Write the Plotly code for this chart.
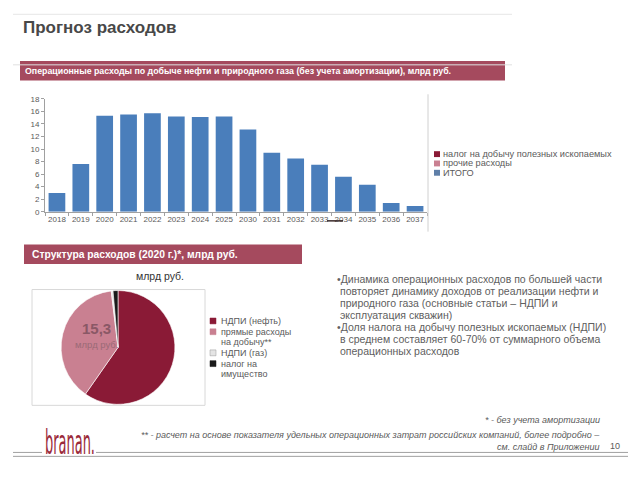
import plotly.graph_objects as go

# ---------------- data ----------------
years = ["2018", "2019", "2020", "2021", "2022", "2023", "2024", "2025",
         "2030", "2031", "2032", "2033", "2034", "2035", "2036", "2037"]
total_costs = [3.0, 7.6, 15.3, 15.5, 15.7, 15.2, 15.1, 15.2,
               13.1, 9.4, 8.5, 7.5, 5.6, 4.3, 1.4, 0.9]
bar_legend = ["налог на добычу полезных ископаемых", "прочие расходы", "ИТОГО"]

pie_labels = ["НДПИ (нефть)", "прямые расходы на добычу**", "НДПИ (газ)", "налог на имущество"]
pie_legend_lines = [["НДПИ (нефть)"], ["прямые расходы", "на добычу**"], ["НДПИ (газ)"], ["налог на", "имущество"]]
pie_shares = [59.7, 38.4, 0.5, 1.4]
pie_total = "15,3"

bullets = [
    ["Динамика операционных расходов по большей части",
     "повторяет динамику доходов от реализации нефти и",
     "природного газа (основные статьи – НДПИ и",
     "эксплуатация скважин)"],
    ["Доля налога на добычу полезных ископаемых (НДПИ)",
     "в среднем составляет 60-70% от суммарного объема",
     "операционных расходов"],
]
footnotes = ["* - без учета амортизации",
             "** - расчет на основе показателя удельных операционных затрат российских компаний, более подробно –",
             "см. слайд в Приложении"]

# ---------------- styles ----------------
W, H = 640, 480
FONT = "Liberation Sans"
HEAD_RED = "#A54A5E"
DARK_RED = "#8A1A36"
PINK = "#C98091"
LIGHT = "#E4E4E4"
BLACK = "#1A1A1A"
BLUE = "#4A7EBB"
BLUEGRAY = "#5F7FA8"
TXT = "#5A5A5A"


def px(x):
    return x / W


def py(y):
    return 1 - y / H


def note(text, x, y, size, color=TXT, xanchor="left", family=FONT):
    return dict(text=text, x=px(x), y=py(y), xref="paper", yref="paper", xanchor=xanchor,
                yanchor="middle", showarrow=False, font=dict(family=family, size=size, color=color))


def pline(x0, x1, y0, y1, color="#A0A0A0", width=1):
    return dict(type="line", xref="paper", yref="paper", x0=px(x0), x1=px(x1), y0=py(y0), y1=py(y1),
                line=dict(color=color, width=width))


fig = go.Figure()

fig.add_trace(go.Bar(x=years, y=total_costs, marker=dict(color=BLUE, line=dict(width=0)),
                     name=bar_legend[2], showlegend=False, xaxis="x", yaxis="y"))

fig.add_trace(go.Pie(labels=pie_labels, values=pie_shares, sort=False, direction="clockwise",
                     rotation=0, textinfo="none", hoverinfo="label+percent",
                     marker=dict(colors=[DARK_RED, PINK, LIGHT, BLACK], line=dict(width=0.6, color="white")),
                     domain=dict(x=[px(60), px(176)], y=[py(408), py(292)]), showlegend=False))

shapes = []
ann = []

# top lines and title
shapes.append(pline(13, 512, 10.5, 10.5, "#E6E6E6"))
shapes.append(pline(13, 512, 62, 62, "#E0E0E0"))
ann.append(note("<b>Прогноз расходов</b>", 21, 24, 17, "#484848"))

# header bars
shapes.append(dict(type="rect", xref="paper", yref="paper", x0=px(20), x1=px(505), y0=py(78), y1=py(58),
                   fillcolor=HEAD_RED, line=dict(width=0), layer="below"))
ann.append(note("<b>Операционные расходы по добыче нефти и природного газа (без учета амортизации), млрд руб.</b>",
                23, 68, 8.8, "white"))
shapes.append(dict(type="rect", xref="paper", yref="paper", x0=px(24), x1=px(302), y0=py(265), y1=py(245),
                   fillcolor=HEAD_RED, line=dict(width=0), layer="below"))
ann.append(note("<b>Структура расходов (2020 г.)*, млрд руб.</b>", 30, 255, 10.3, "white"))

# bar chart frame right edge
shapes.append(pline(428, 428, 92, 232, "#D0D0D0"))
# small dark mark near 2033/2034 labels
shapes.append(pline(327, 343, 221, 221, "#3A2A2A", 1.5))

# bar legend
bar_leg_colors = [DARK_RED, PINK, BLUEGRAY]
for i, (lab, c) in enumerate(zip(bar_legend, bar_leg_colors)):
    yy = 153 + i * 9.5
    shapes.append(dict(type="rect", xref="paper", yref="paper", x0=px(434), x1=px(440), y0=py(yy + 3),
                       y1=py(yy - 3), fillcolor=c, line=dict(width=0)))
    ann.append(note(lab, 440.5, yy, 9.2))

# pie box, title, centre label
shapes.append(dict(type="rect", xref="paper", yref="paper", x0=px(32), x1=px(205), y0=py(409), y1=py(291),
                   line=dict(color="#D8D8D8", width=1), layer="below"))
ann.append(note("млрд руб.", 160, 277, 10.5, "#333333", "center"))
ann.append(note("<b>" + pie_total + "</b>", 96, 331, 15, "#8A5866", "center"))
ann.append(note("млрд руб.", 96, 347, 9.5, "#9A6A76", "center"))

# pie legend
pie_colors = [DARK_RED, PINK, LIGHT, BLACK]
yy = 323
for lines, c in zip(pie_legend_lines, pie_colors):
    shapes.append(dict(type="rect", xref="paper", yref="paper", x0=px(210), x1=px(216), y0=py(yy + 3),
                       y1=py(yy - 3), fillcolor=c, line=dict(width=0.5, color="#999" if c == LIGHT else c)))
    for j, t in enumerate(lines):
        ann.append(note(t, 219, yy + j * 10.5, 9))
    yy += 10.5 * len(lines) + 0.5

# bullet text
yy = 280
for para in bullets:
    for j, t in enumerate(para):
        ann.append(note(("•" if j == 0 else "") + t, 335 if j == 0 else 338, yy, 10.5, "#606060"))
        yy += 12.2

# footer
ann.append(note("branan.", 43, 446, 34, "#9B2A3A", family="DejaVu Sans Condensed, DejaVu Sans"))
for t, y in zip(footnotes, [424, 439, 451]):
    ann.append(note("<i>" + t + "</i>", 602, y, 9, TXT, "right"))
ann.append(note("10", 622, 450, 9, TXT, "right"))
shapes.append(pline(13, 42, 457, 457))
shapes.append(pline(96, 628, 457, 457))
shapes.append(pline(13, 628, 461, 461))

fig.update_layout(
    width=W, height=H, margin=dict(l=0, r=0, t=0, b=0),
    paper_bgcolor="white", plot_bgcolor="white",
    showlegend=False, bargap=0.3,
    shapes=shapes, annotations=ann,
    xaxis=dict(domain=[px(45), px(427)], anchor="y", type="category",
               showline=True, linecolor="#A0A0A0", linewidth=1, ticks="outside", tickson="boundaries",
               ticklen=3, tickcolor="#A0A0A0", showgrid=False,
               tickfont=dict(family=FONT, size=8, color=TXT), tickangle=0),
    yaxis=dict(domain=[py(211.7), py(96.7)], anchor="x", range=[0, 18], dtick=2,
               showline=True, linecolor="#A0A0A0", linewidth=1, ticks="outside", ticklen=3,
               tickcolor="#A0A0A0", showgrid=False, zeroline=False,
               tickfont=dict(family=FONT, size=8, color=TXT)),
    font=dict(family=FONT),
)

logo_js = """
document.body.style.margin='0';document.body.style.overflow='hidden';
(function(){
  var ts = document.querySelectorAll('text.annotation-text');
  ts.forEach(function(t){
    if (t.textContent === 'branan.') {
      var bb = t.getBBox();
      var sx = 50 / bb.width;
      var ox = bb.x, oy = bb.y + bb.height / 2;
      t.setAttribute('transform', 'translate(' + ox + ',' + oy + ') scale(' + sx + ',1) translate(' + (-ox) + ',' + (-oy) + ')');
    }
  });
})();
"""

fig.write_html("out.html", config={"displayModeBar": False}, post_script=logo_js)
